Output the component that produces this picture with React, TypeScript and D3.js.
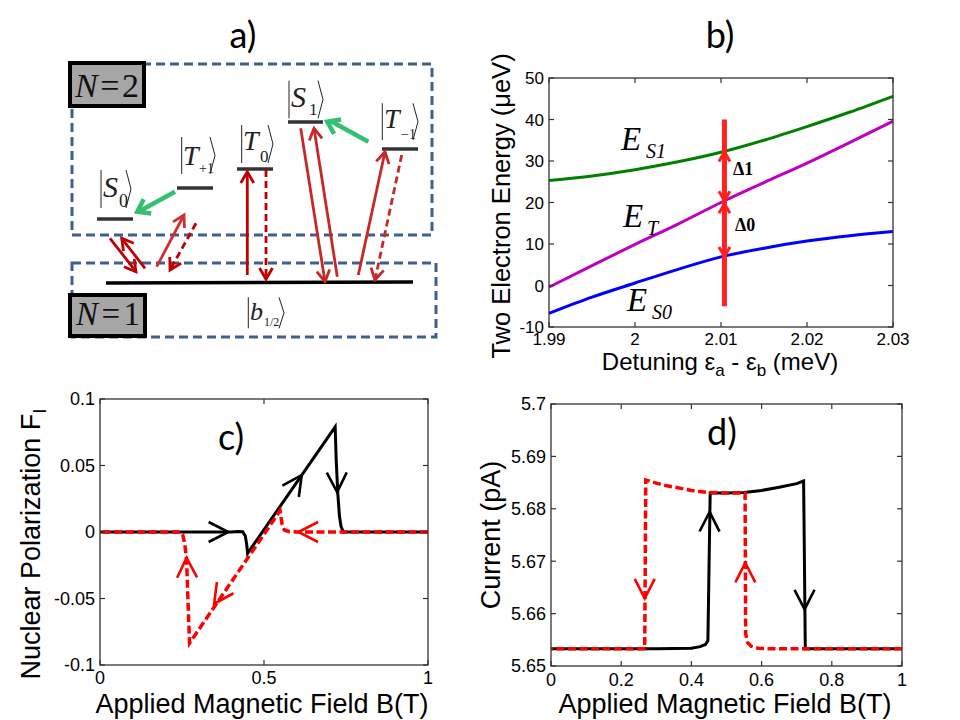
import React from "react";
import * as d3 from "d3";

// ---------- Panel b data ----------
const detuning = [1.99, 1.995, 2.0, 2.005, 2.01, 2.015, 2.02, 2.025, 2.03];
const energyS1 = [25.3, 26.4, 27.9, 29.8, 32.1, 35.0, 38.3, 41.8, 45.6];
const energyT = [-0.4, 4.8, 9.9, 14.8, 20.0, 24.8, 29.5, 34.5, 39.6];
const energyS0 = [-6.7, -2.8, 0.6, 3.9, 6.9, 9.0, 10.7, 12.0, 13.0];
const bXTicks = [1.99, 2.0, 2.01, 2.02, 2.03];
const bYTicks = [-10, 0, 10, 20, 30, 40, 50];
const deltaX = 2.0104;
const deltaRange = [40, -5];
const deltaTips = [
  { y: 32.2, dir: -1 },
  { y: 20.4, dir: 1 },
  { y: 19.7, dir: -1 },
  { y: 7.0, dir: 1 },
];

// ---------- Panel c data ----------
const fieldSweepUp = [0, 0.4, 0.42, 0.435, 0.443, 0.447, 0.45, 0.717, 0.72, 0.725, 0.73, 0.735, 0.742, 1.0];
const polSweepUp = [0, 0, 0.0004, 0.0002, -0.003, -0.009, -0.016, 0.079, 0.055, 0.029, 0.012, 0.004, 0, 0];
const fieldSweepDown = [1.0, 0.6, 0.575, 0.562, 0.555, 0.549, 0.273, 0.268, 0.264, 0.258, 0.252, 0.244, 0];
const polSweepDown = [0, 0, 0.0004, 0.0015, 0.006, 0.016, -0.0835, -0.05, -0.021, -0.008, -0.002, 0, 0];
const cXTicks = [0, 0.5, 1];
const cYTicks = [-0.1, -0.05, 0, 0.05, 0.1];
const cArrows = [
  { color: "#000", tip: [0.391, 0], back: [0.3, 0] },
  { color: "#000", tip: [0.615, 0.0427], back: [0.55, 0.0195] },
  { color: "#000", tip: [0.723, 0.03], back: [0.72, 0.07] },
  { color: "#ff0000", tip: [0.605, 0], back: [0.7, 0] },
  { color: "#ff0000", tip: [0.348, -0.054], back: [0.42, -0.028] },
  { color: "#ff0000", tip: [0.264, -0.0195], back: [0.268, -0.06] },
];

// ---------- Panel d data ----------
const fieldUpD = [0, 0.3, 0.4, 0.425, 0.44, 0.447, 0.4535, 0.5, 0.55, 0.6, 0.65, 0.7, 0.7197, 0.7245, 1.0];
const currentUp = [5.6533, 5.6533, 5.6534, 5.6537, 5.6541, 5.6548, 5.683, 5.683, 5.6831, 5.6835, 5.6841, 5.6848, 5.6853, 5.6533, 5.6533];
const fieldDownD = [1.0, 0.62, 0.59, 0.57, 0.56, 0.5545, 0.553, 0.5, 0.45, 0.4, 0.37, 0.33, 0.3, 0.27, 0.267, 0];
const currentDown = [5.6533, 5.6533, 5.6534, 5.6538, 5.6545, 5.6562, 5.683, 5.683, 5.6831, 5.6835, 5.6839, 5.6844, 5.6849, 5.6855, 5.6533, 5.6533];
const dXTicks = [0, 0.2, 0.4, 0.6, 0.8, 1];
const dYTicks = [5.65, 5.66, 5.67, 5.68, 5.69, 5.7];
const dArrows = [
  { color: "#000", tip: [0.452, 5.6794], back: [0.451, 5.668] },
  { color: "#000", tip: [0.7225, 5.6608], back: [0.722, 5.672] },
  { color: "#ff0000", tip: [0.267, 5.6629], back: [0.267, 5.674] },
  { color: "#ff0000", tip: [0.5535, 5.6697], back: [0.554, 5.658] },
];

// ---------- Panel a (schematic) ----------
const levels = [
  { name: "S0", x1: 97, x2: 133, y: 219 },
  { name: "T+1", x1: 177, x2: 213, y: 188 },
  { name: "T0", x1: 237, x2: 273, y: 169 },
  { name: "S1", x1: 288, x2: 323, y: 122 },
  { name: "T-1", x1: 382, x2: 418, y: 149 },
];
const ground = { x1: 106, x2: 413, y: 283 };
const kets = [
  { bx: 101, top: 170, bot: 208, letter: "S", lx: 103, lb: 197, ls: 30, sub: "0", sx: 119, sb: 207, ss: 18, rx: 126 },
  { bx: 181.7, top: 137, bot: 174, letter: "T", lx: 183, lb: 165, ls: 28, sub: "+1", sx: 199, sb: 173, ss: 14, rx: 210 },
  { bx: 241.7, top: 125, bot: 163, letter: "T", lx: 243, lb: 150, ls: 28, sub: "0", sx: 260, sb: 162, ss: 17, rx: 268 },
  { bx: 289, top: 80.7, bot: 118.3, letter: "S", lx: 291, lb: 107, ls: 30, sub: "1", sx: 309, sb: 115, ss: 17, rx: 318 },
  { bx: 382.3, top: 103.3, bot: 140, letter: "T", lx: 384, lb: 128, ls: 28, sub: "\u22121", sx: 401, sb: 139, ss: 14, rx: 413 },
  { bx: 248.3, top: 297.3, bot: 328.3, letter: "b", lx: 250, lb: 320, ls: 26, sub: "1/2", sx: 264, sb: 326, ss: 12, rx: 279 },
];
const redArrows = [
  { x1: 110, y1: 238.3, x2: 136, y2: 271.7, dashed: false, color: "#c00000" },
  { x1: 145, y1: 268.3, x2: 121.7, y2: 238.3, dashed: false, color: "#c00000" },
  { x1: 156.7, y1: 266.7, x2: 184, y2: 215, dashed: false, color: "#d03030" },
  { x1: 196, y1: 223.3, x2: 170, y2: 270, dashed: true, color: "#c00000" },
  { x1: 247.3, y1: 275, x2: 247.3, y2: 171.7, dashed: false, color: "#c00000" },
  { x1: 266, y1: 170, x2: 266, y2: 279.3, dashed: true, color: "#c00000" },
  { x1: 300.7, y1: 128.3, x2: 325, y2: 281.7, dashed: false, color: "#c62828" },
  { x1: 337.3, y1: 276.7, x2: 314, y2: 128.3, dashed: false, color: "#c62828" },
  { x1: 358.3, y1: 275, x2: 385, y2: 151.7, dashed: false, color: "#c62828" },
  { x1: 401.7, y1: 155, x2: 375, y2: 280, dashed: true, color: "#c62828" },
];
const greenArrows = [
  { x1: 175, y1: 191.7, x2: 137.3, y2: 211.7 },
  { x1: 368.3, y1: 141.7, x2: 327.3, y2: 121.7 },
];

// ---------- helpers ----------
const SANS = "'Liberation Sans', Arial, sans-serif";
const SERIF = "'Liberation Serif', 'Times New Roman', serif";
const TITLE = "Lato, 'Open Sans', sans-serif";

function chevron(tx: number, ty: number, bx: number, by: number, L: number, phiDeg: number) {
  const a = Math.atan2(ty - by, tx - bx);
  const phi = (phiDeg * Math.PI) / 180;
  const p1 = [tx - L * Math.cos(a - phi), ty - L * Math.sin(a - phi)];
  const p2 = [tx - L * Math.cos(a + phi), ty - L * Math.sin(a + phi)];
  return `M${p1[0]},${p1[1]} L${tx},${ty} L${p2[0]},${p2[1]}`;
}

function fmt(v: number) {
  return String(+v.toFixed(4));
}

type FrameProps = {
  xs: d3.ScaleLinear<number, number>;
  ys: d3.ScaleLinear<number, number>;
  xTicks: number[];
  yTicks: number[];
  xLabDy: number;
  fs: number;
};
function Frame({ xs, ys, xTicks, yTicks, xLabDy, fs }: FrameProps) {
  const [x0, x1] = xs.range();
  const [y0, y1] = ys.range();
  const tl = 5;
  return (
    <g>
      <rect x={x0} y={y1} width={x1 - x0} height={y0 - y1} fill="none" stroke="#333" strokeWidth={1.3} />
      {xTicks.map((t) => (
        <g key={"x" + t}>
          <line x1={xs(t)} x2={xs(t)} y1={y0} y2={y0 - tl} stroke="#333" strokeWidth={1.2} />
          <line x1={xs(t)} x2={xs(t)} y1={y1} y2={y1 + tl} stroke="#333" strokeWidth={1.2} />
          <text x={xs(t)} y={y0 + xLabDy} textAnchor="middle" fontFamily={SANS} fontSize={fs} fill="#000">
            {fmt(t)}
          </text>
        </g>
      ))}
      {yTicks.map((t) => (
        <g key={"y" + t}>
          <line x1={x0} x2={x0 + tl} y1={ys(t)} y2={ys(t)} stroke="#333" strokeWidth={1.2} />
          <line x1={x1} x2={x1 - tl} y1={ys(t)} y2={ys(t)} stroke="#333" strokeWidth={1.2} />
          <text x={x0 - 5} y={ys(t)} dy="0.36em" textAnchor="end" fontFamily={SANS} fontSize={fs} fill="#000">
            {fmt(t)}
          </text>
        </g>
      ))}
    </g>
  );
}

function Ket({ k }: { k: any }) {
  return (
    <g>
      <line x1={k.bx} x2={k.bx} y1={k.top} y2={k.bot} stroke="#222" strokeWidth={1} />
      <text x={k.lx} y={k.lb} fontFamily={SERIF} fontStyle="italic" fontSize={k.ls} fill="#222">
        {k.letter}
      </text>
      <text x={k.sx} y={k.sb} fontFamily={SERIF} fontSize={k.ss} fill="#222">
        {k.sub}
      </text>
      <path
        d={`M${k.rx},${k.top} L${k.rx + 5},${(k.top + k.bot) / 2} L${k.rx},${k.bot}`}
        fill="none"
        stroke="#222"
        strokeWidth={1}
      />
    </g>
  );
}

export default function App() {
  const bx = d3.scaleLinear().domain([1.99, 2.03]).range([549, 893]);
  const by = d3.scaleLinear().domain([-10, 50]).range([327, 78]);
  const cx = d3.scaleLinear().domain([0, 1]).range([100, 428]);
  const cy = d3.scaleLinear().domain([-0.1, 0.1]).range([665, 399]);
  const dx = d3.scaleLinear().domain([0, 1]).range([551, 902]);
  const dy = d3.scaleLinear().domain([5.65, 5.7]).range([666, 404]);

  const bLine = (vals: number[]) =>
    d3
      .line<number>()
      .x((_, i) => bx(detuning[i]))
      .y((v) => by(v))
      .curve(d3.curveMonotoneX)(vals) || "";

  const xyLine = (xs: number[], ys: number[], sx: any, sy: any) =>
    d3
      .line<number>()
      .x((v) => sx(v))
      .y((_, i) => sy(ys[i]))(xs) || "";

  return (
    <svg
      width={960}
      height={720}
      viewBox="0 0 960 720"
      style={{ position: "absolute", left: 0, top: 0, background: "#fff" }}
    >
      <rect x={0} y={0} width={960} height={720} fill="#fff" />

      <text x={243} y={48} textAnchor="middle" fontFamily={TITLE} fontSize={36} fill="#000">a)</text>
      <text x={720} y={48} textAnchor="middle" fontFamily={TITLE} fontSize={36} fill="#000">b)</text>

      {/* ---------------- Panel a ---------------- */}
      <g>
        <rect x={72} y={64} width={360} height={171} fill="none" stroke="#3f5f8f" strokeWidth={3} strokeDasharray="9,5" />
        <rect x={72} y={263} width={364} height={74} fill="none" stroke="#3f5f8f" strokeWidth={3} strokeDasharray="9,5" />
        <rect x={70} y={63} width={74} height={43} fill="#a6a6a6" stroke="#000" strokeWidth={4} />
        <text x={107} y={97} textAnchor="middle" fontFamily={SERIF} fontSize={34} fill="#111" textLength={64}>
          <tspan fontStyle="italic">N</tspan>=2
        </text>
        <rect x={70} y={295} width={75} height={41} fill="#a6a6a6" stroke="#000" strokeWidth={4} />
        <text x={108} y={325} textAnchor="middle" fontFamily={SERIF} fontSize={33} fill="#111" textLength={64} lengthAdjust="spacing">
          <tspan fontStyle="italic">N</tspan>{"\u2009=\u20091"}
        </text>

        {levels.map((l) => (
          <line key={l.name} x1={l.x1} x2={l.x2} y1={l.y} y2={l.y} stroke="#333" strokeWidth={3.5} />
        ))}
        <line x1={ground.x1} x2={ground.x2} y1={ground.y} y2={ground.y - 1} stroke="#000" strokeWidth={3.5} />
        {kets.map((k, i) => (
          <Ket key={i} k={k} />
        ))}

        {redArrows.map((a, i) => (
          <g key={"r" + i} stroke={a.color} fill="none" strokeWidth={2.8}>
            <line x1={a.x1} y1={a.y1} x2={a.x2} y2={a.y2} strokeDasharray={a.dashed ? "7,4" : undefined} />
            <path d={chevron(a.x2, a.y2, a.x1, a.y1, 13, 30)} />
          </g>
        ))}
        {greenArrows.map((a, i) => (
          <g key={"g" + i} stroke="#33c070" fill="none" strokeWidth={4.5}>
            <line x1={a.x1} y1={a.y1} x2={a.x2 + 3} y2={a.y2 - 1} />
            <path d={chevron(a.x2, a.y2, a.x1, a.y1, 14, 35)} />
          </g>
        ))}
      </g>

      {/* ---------------- Panel b ---------------- */}
      <g>
        <path d={bLine(energyS1)} fill="none" stroke="#008000" strokeWidth={3} />
        <path d={bLine(energyT)} fill="none" stroke="#bf00bf" strokeWidth={3} />
        <path d={bLine(energyS0)} fill="none" stroke="#0000ff" strokeWidth={3} />
        <line
          x1={bx(deltaX)}
          x2={bx(deltaX)}
          y1={by(deltaRange[0])}
          y2={by(deltaRange[1])}
          stroke="#ff2020"
          strokeWidth={5}
        />
        {deltaTips.map((t, i) => (
          <path
            key={i}
            d={chevron(bx(deltaX), by(t.y), bx(deltaX), by(t.y) - t.dir * 10, 11, 30)}
            fill="none"
            stroke="#ff2020"
            strokeWidth={3}
          />
        ))}
        <Frame xs={bx} ys={by} xTicks={bXTicks} yTicks={bYTicks} xLabDy={18} fs={17} />
        <text x={733} y={175} fontFamily={SERIF} fontWeight="bold" fontSize={18}>Δ1</text>
        <text x={735} y={231} fontFamily={SERIF} fontWeight="bold" fontSize={18}>Δ0</text>

        <text x={621} y={150} fontFamily={SERIF} fontStyle="italic" fontSize={33}>E</text>
        <text x={646} y={158} fontFamily={SERIF} fontStyle="italic" fontSize={20}>S1</text>
        <text x={623} y={227} fontFamily={SERIF} fontStyle="italic" fontSize={33}>E</text>
        <text x={647} y={235} fontFamily={SERIF} fontStyle="italic" fontSize={20}>T</text>
        <text x={627} y={311} fontFamily={SERIF} fontStyle="italic" fontSize={33}>E</text>
        <text x={652} y={319} fontFamily={SERIF} fontStyle="italic" fontSize={20}>S0</text>

        <text transform="translate(510,206) rotate(-90)" textAnchor="middle" fontFamily={SANS} fontSize={25.5}>
          Two Electron Energy (μeV)
        </text>
        <text x={720} y={370} textAnchor="middle" fontFamily={SANS} fontSize={24}>
          Detuning ε<tspan fontSize={17} dy={6}>a</tspan>
          <tspan dy={-6}> - ε</tspan>
          <tspan fontSize={17} dy={6}>b</tspan>
          <tspan dy={-6}> (meV)</tspan>
        </text>
      </g>

      {/* ---------------- Panel c ---------------- */}
      <g>
        <path d={xyLine(fieldSweepUp, polSweepUp, cx, cy)} fill="none" stroke="#000" strokeWidth={3} />
        <path
          d={xyLine(fieldSweepDown, polSweepDown, cx, cy)}
          fill="none"
          stroke="#ff0000"
          strokeWidth={3.5}
          strokeDasharray="8,3.5"
        />
        {cArrows.map((a, i) => (
          <path
            key={i}
            d={chevron(cx(a.tip[0]), cy(a.tip[1]), cx(a.back[0]), cy(a.back[1]), 22, 27)}
            fill="none"
            stroke={a.color}
            strokeWidth={2.6}
          />
        ))}
        <Frame xs={cx} ys={cy} xTicks={cXTicks} yTicks={cYTicks} xLabDy={19} fs={18} />
        <text x={231} y={450} textAnchor="middle" fontFamily={TITLE} fontSize={36}>c)</text>
        <text transform="translate(40,544) rotate(-90)" textAnchor="middle" fontFamily={SANS} fontSize={27}>
          Nuclear Polarization F<tspan fontSize={19} dy={6}>I</tspan>
        </text>
        <text x={262} y={713} textAnchor="middle" fontFamily={SANS} fontSize={27}>
          Applied Magnetic Field B(T)
        </text>
      </g>

      {/* ---------------- Panel d ---------------- */}
      <g>
        <path d={xyLine(fieldUpD, currentUp, dx, dy)} fill="none" stroke="#000" strokeWidth={3} />
        <path
          d={xyLine(fieldDownD, currentDown, dx, dy)}
          fill="none"
          stroke="#ff0000"
          strokeWidth={3.5}
          strokeDasharray="8,3.5"
        />
        {dArrows.map((a, i) => (
          <path
            key={i}
            d={chevron(dx(a.tip[0]), dy(a.tip[1]), dx(a.back[0]), dy(a.back[1]), 22, 27)}
            fill="none"
            stroke={a.color}
            strokeWidth={2.6}
          />
        ))}
        <Frame xs={dx} ys={dy} xTicks={dXTicks} yTicks={dYTicks} xLabDy={19.5} fs={18} />
        <text x={722} y={445} textAnchor="middle" fontFamily={TITLE} fontSize={36}>d)</text>
        <text transform="translate(500,535) rotate(-90)" textAnchor="middle" fontFamily={SANS} fontSize={27}>
          Current (pA)
        </text>
        <text x={725} y={713} textAnchor="middle" fontFamily={SANS} fontSize={27}>
          Applied Magnetic Field B(T)
        </text>
      </g>
    </svg>
  );
}
